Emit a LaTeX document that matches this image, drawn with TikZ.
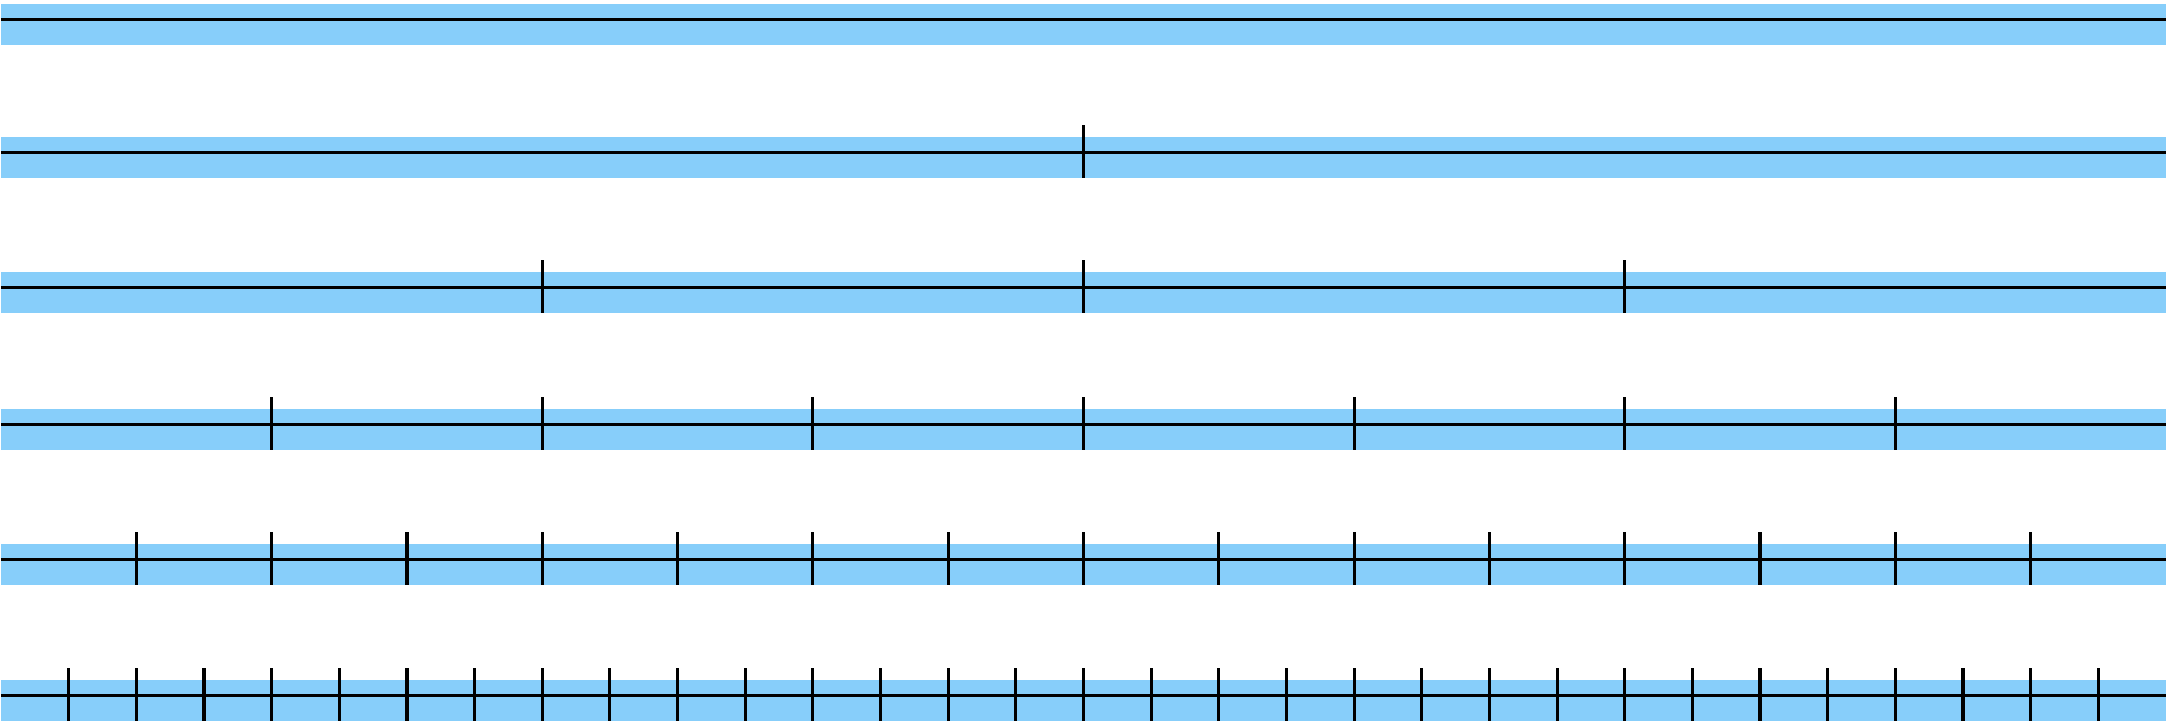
\documentclass[tikz,border=0pt]{standalone}
\usepackage{tikz}
\definecolor{barblue}{RGB}{135,206,250}
\newcommand{\drawdividedbar}[2]{
    % #1: topo da barra, #2: numero de partes
    \fill[barblue] (\barleft,#1) rectangle (\barright,#1+41);
    \draw[line width=0.85pt] (\barleft,#1+15) -- (\barright,#1+15);
    \ifnum#2>1
        \pgfmathtruncatemacro{\lastcut}{#2-1}
        \foreach \i in {1,...,\lastcut} {
            \pgfmathsetmacro{\cutx}{\barleft+\i/#2*(\barright-\barleft)}
            \draw[line width=0.9pt] (\cutx,#1-12) -- (\cutx,#1+41);
        }
    \fi
}

\begin{document}
\begin{tikzpicture}[x=0.1mm,y=-0.1mm]

% -------------------------
% Parametros
% -------------------------
\def\barleft{1}
\def\barright{2166}
\useasboundingbox (0,0) rectangle (2168,726);

% -------------------------
% Barras (1, 2, 4, 8, 16, 32 partes)
% -------------------------
\drawdividedbar{4}{1}
\drawdividedbar{137}{2}
\drawdividedbar{272}{4}
\drawdividedbar{409}{8}
\drawdividedbar{544}{16}
\drawdividedbar{680}{32}

\end{tikzpicture}
\end{document}
